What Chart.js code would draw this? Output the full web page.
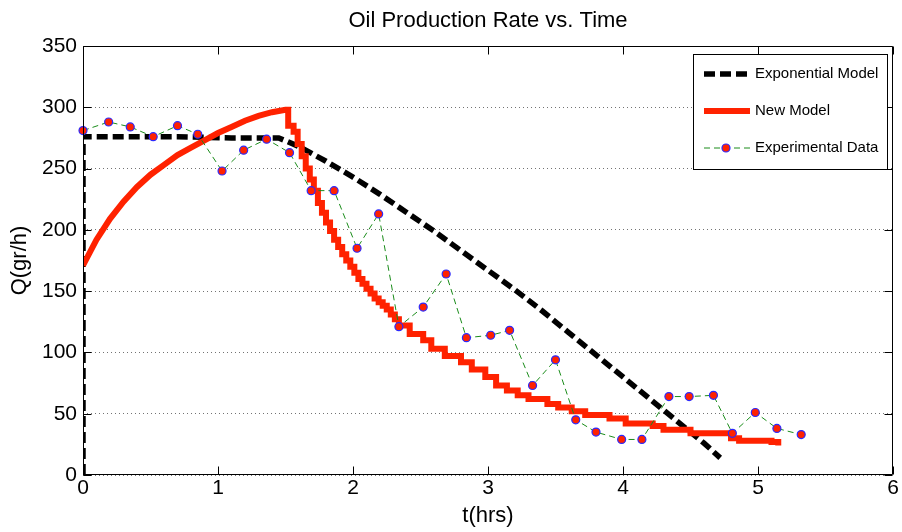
<!DOCTYPE html>
<html>
<head>
<meta charset="utf-8">
<script src="https://cdn.jsdelivr.net/npm/chart.js@4.4.1/dist/chart.umd.min.js"></script>
<style>
  html, body { margin: 0; padding: 0; background: #fff; }
  #wrap { width: 902px; height: 532px; }
</style>
</head>
<body>
<div id="wrap"><canvas id="c" width="902" height="532"></canvas></div>
<script>
// ---- data ----
const chartTitle = "Oil Production Rate vs. Time";
const xTitle = "t(hrs)";
const yTitle = "Q(gr/h)";
const seriesNames = ["Exponential Model", "New Model", "Experimental Data"];

// Experimental data
const expT = [0.00,0.19,0.35,0.52,0.70,0.85,1.03,1.19,1.36,1.53,1.69,1.86,2.03,2.19,2.34,2.52,2.69,2.84,3.02,3.16,3.33,3.50,3.65,3.80,3.99,4.14,4.34,4.49,4.67,4.81,4.98,5.14,5.32];
const expQ = [281,288,284,276,285,278,248,265,274,263,232,232,185,213,121,137,164,112,114,118,73,94,45,35,29,29,64,64,65,34,51,38,33];

// Exponential model
const expoT = [0,0,0.3,0.7,1.1,1.45,1.6,1.8,2.0,2.2,2.4,2.6,2.8,3.0,3.2,3.4,3.6,3.8,4.0,4.2,4.4,4.6,4.72];
const expoQ = [0,276,276,276,275,275,268,256,243,229,214,199,183,167,151,134,116,98,80,62,44,26,14];

// New model: smooth rise, then a staircase decline
const newRiseT = [0,0.1,0.2,0.3,0.4,0.5,0.6,0.7,0.8,0.9,1.0,1.1,1.2,1.3,1.4,1.5,1.52];
const newRiseQ = [171,192,209,223,235,245,253,261,267,273,279,284,289,293,296,298,298];
// step start times and the level held from each time on
const newStepT = [1.52,1.56,1.59,1.62,1.65,1.68,1.71,1.74,1.77,1.80,1.83,1.86,1.89,1.92,1.95,1.98,2.01,2.04,2.07,2.10,2.13,2.16,2.19,2.22,2.25,2.28,2.31,2.34,
  2.42,2.52,2.58,2.68,2.80,2.88,2.98,3.06,3.14,3.22,3.30,3.44,3.52,3.62,3.72,3.90,4.02,4.22,4.30,4.50,4.80,4.86,5.10];
const newStepQ = [285,280,270,260,250,241,232,222,214,206,199,192,186,180,175,170,165,160,156,152,148,144,141,138,135,131,127,122,
  115,110,103,97,92,86,80,73,69,65,62,58,55,52,49,46,42,40,37,34,30,28,27];
const newEndT = 5.15, newEndQ = 24;

const xTicks = [0,1,2,3,4,5,6];
const yTicks = [0,50,100,150,200,250,300,350];

// ---- styles ----
const FONT = "'Liberation Sans', Arial, Helvetica, sans-serif";
const BLACK_DASH = [11, 5];
const GREEN_DASH = [6, 4];
const RED = '#ff2200';
const GREEN = '#1a8c1a';

const toPts = (xs, ys) => xs.map((x, i) => ({x: x, y: ys[i]}));

function newModelPts() {
  const pts = toPts(newRiseT, newRiseQ);
  newStepT.forEach((t, i) => {
    pts.push({x: t, y: newStepQ[i]});
    const tn = i + 1 < newStepT.length ? newStepT[i + 1] : newEndT;
    pts.push({x: tn, y: newStepQ[i]});
  });
  pts.push({x: newEndT, y: newEndQ});
  return pts;
}

const boxPlugin = {
  id: 'matlabBox',
  afterDatasetsDraw(chart) {
    const {ctx, chartArea: a, scales: {x, y}} = chart;
    ctx.save();
    ctx.strokeStyle = '#000';
    ctx.lineWidth = 1;
    ctx.setLineDash([]);
    ctx.beginPath();
    const L = Math.round(a.left) + 0.5, R = Math.round(a.right) - 0.5;
    const T = Math.round(a.top) + 0.5, B = Math.round(a.bottom) - 0.5;
    ctx.rect(L, T, R - L, B - T);
    xTicks.forEach(v => {
      const px = Math.round(x.getPixelForValue(v)) + 0.5;
      ctx.moveTo(px, B); ctx.lineTo(px, B - 8);
      ctx.moveTo(px, T); ctx.lineTo(px, T + 8);
    });
    yTicks.forEach(v => {
      const py = Math.round(y.getPixelForValue(v)) + 0.5;
      ctx.moveTo(L, py); ctx.lineTo(L + 8, py);
      ctx.moveTo(R, py); ctx.lineTo(R - 8, py);
    });
    ctx.stroke();
    ctx.restore();
  },
  afterDraw(chart) {
    const {ctx} = chart;
    const lx = 693.5, ly = 54.5, lw = 194, lh = 115;
    ctx.save();
    ctx.fillStyle = '#fff';
    ctx.fillRect(lx, ly, lw, lh);
    ctx.strokeStyle = '#000';
    ctx.lineWidth = 1;
    ctx.setLineDash([]);
    ctx.strokeRect(lx, ly, lw, lh);
    const rows = [74, 111, 148];
    const x0 = 704, x1 = 750;
    ctx.beginPath();
    ctx.strokeStyle = '#000'; ctx.lineWidth = 5.5; ctx.setLineDash(BLACK_DASH);
    ctx.moveTo(x0, rows[0]); ctx.lineTo(x1, rows[0]); ctx.stroke();
    ctx.beginPath();
    ctx.strokeStyle = RED; ctx.lineWidth = 6; ctx.setLineDash([]);
    ctx.moveTo(x0, rows[1]); ctx.lineTo(x1, rows[1]); ctx.stroke();
    ctx.beginPath();
    ctx.strokeStyle = GREEN; ctx.lineWidth = 1; ctx.setLineDash(GREEN_DASH);
    ctx.moveTo(x0, rows[2]); ctx.lineTo(x1, rows[2]); ctx.stroke();
    ctx.setLineDash([]);
    ctx.beginPath();
    ctx.arc(726, rows[2], 4, 0, Math.PI * 2);
    ctx.fillStyle = RED; ctx.fill();
    ctx.strokeStyle = '#2a2aff'; ctx.lineWidth = 1.2; ctx.stroke();
    ctx.fillStyle = '#000';
    ctx.font = '15px ' + FONT;
    ctx.textBaseline = 'middle';
    ctx.textAlign = 'left';
    seriesNames.forEach((n, i) => ctx.fillText(n, 755, rows[i]));
    ctx.restore();
  }
};

new Chart(document.getElementById('c'), {
  type: 'scatter',
  data: {
    datasets: [
      {
        label: seriesNames[0],
        data: toPts(expoT, expoQ),
        showLine: true,
        borderColor: '#000',
        borderWidth: 5.5,
        borderDash: BLACK_DASH,
        pointRadius: 0,
        fill: false,
        tension: 0,
        order: 3,
        clip: 0
      },
      {
        label: seriesNames[1],
        data: newModelPts(),
        showLine: true,
        borderColor: RED,
        borderWidth: 6,
        pointRadius: 0,
        fill: false,
        tension: 0,
        order: 2,
        clip: 0
      },
      {
        label: seriesNames[2],
        data: toPts(expT, expQ),
        showLine: true,
        borderColor: GREEN,
        borderWidth: 1,
        borderDash: GREEN_DASH,
        pointRadius: 4,
        pointBackgroundColor: RED,
        pointBorderColor: '#2a2aff',
        pointBorderWidth: 1.2,
        fill: false,
        tension: 0,
        order: 1,
        clip: false
      }
    ]
  },
  options: {
    responsive: false,
    animation: false,
    devicePixelRatio: 1,
    layout: { padding: { left: 0, right: 9, top: 0, bottom: 0 } },
    plugins: {
      legend: { display: false },
      tooltip: { enabled: false },
      title: {
        display: true,
        text: chartTitle,
        fullSize: false,
        color: '#000',
        font: { family: FONT, size: 22, weight: 'normal' },
        padding: { top: 8, bottom: 11.6 }
      }
    },
    scales: {
      x: {
        type: 'linear',
        min: 0, max: 6,
        afterFit: s => { s.height = 57; },
        afterBuildTicks: s => { s.ticks = xTicks.map(v => ({value: v})); },
        ticks: { color: '#000', font: { family: FONT, size: 21 }, padding: 1, maxRotation: 0 },
        grid: { display: false, drawTicks: false },
        border: { display: false },
        title: {
          display: true, text: xTitle, color: '#000',
          font: { family: FONT, size: 22 },
          padding: { top: 0, bottom: 3 }
        }
      },
      y: {
        type: 'linear',
        min: 0, max: 350,
        afterFit: s => { s.width = 83; },
        afterBuildTicks: s => { s.ticks = yTicks.map(v => ({value: v})); },
        ticks: { color: '#000', font: { family: FONT, size: 21 }, padding: 6 },
        grid: { color: 'rgba(0,0,0,0.55)', lineWidth: 1, drawTicks: false },
        border: { display: false, dash: [1, 3] },
        title: {
          display: true, text: yTitle, color: '#000',
          font: { family: FONT, size: 22 },
          padding: { top: 7, bottom: 0 }
        }
      }
    }
  },
  plugins: [boxPlugin]
});
</script>
</body>
</html>
